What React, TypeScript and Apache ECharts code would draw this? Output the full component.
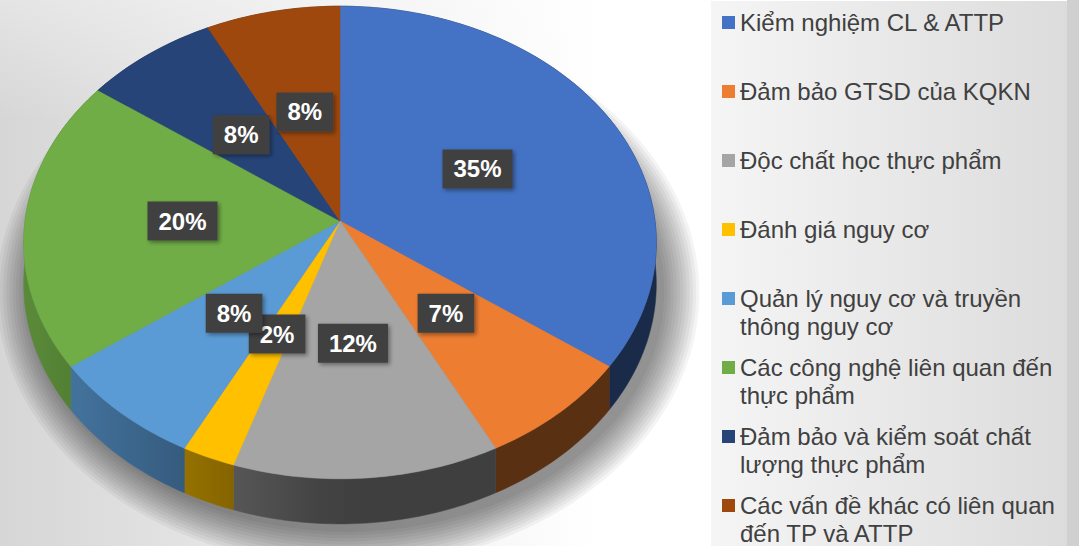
import React, { useEffect, useRef } from "react";
import * as echarts from "echarts";

const categories = [
  "Kiểm nghiệm CL & ATTP",
  "Đảm bảo GTSD của KQKN",
  "Độc chất học thực phẩm",
  "Đánh giá nguy cơ",
  "Quản lý nguy cơ và truyền thông nguy cơ",
  "Các công nghệ liên quan đến thực phẩm",
  "Đảm bảo và kiểm soát chất lượng thực phẩm",
  "Các vấn đề khác có liên quan đến TP và ATTP",
];
const legendText = [
  "Kiểm nghiệm CL & ATTP",
  "Đảm bảo GTSD của KQKN",
  "Độc chất học thực phẩm",
  "Đánh giá nguy cơ",
  "Quản lý nguy cơ và truyền\nthông nguy cơ",
  "Các công nghệ liên quan đến\nthực phẩm",
  "Đảm bảo và kiểm soát chất\nlượng thực phẩm",
  "Các vấn đề khác có liên quan\nđến TP và ATTP",
];
// slice sizes
const values = [35, 7.5, 12.5, 2.5, 7.5, 20, 7.5, 7.5];
// percentages as printed on the data labels
const shownPercents = [35, 7, 12, 2, 8, 20, 8, 8];
const colors = ["#4472C4", "#ED7D31", "#A5A5A5", "#FFC000", "#5B9BD5", "#70AD47", "#264478", "#9E480E"];

// geometry of the tilted pie
const CX = 340;
const CY = 221;
const R = 315;
const D = 11 * R;
const TILT = 0.744;
const DEPTH = 41;

function proj(phiDeg: number, r: number, drop: number): number[] {
  const p = (phiDeg * Math.PI) / 180;
  const X = r * R * Math.sin(p);
  const Yd = -r * R * Math.cos(p);
  const k = D / (D - Yd);
  return [CX + X * k, CY + Yd * TILT * k + drop * k];
}

function shade(hex: string, f: number): string {
  const n = parseInt(hex.slice(1), 16);
  const r = Math.round(((n >> 16) & 255) * f);
  const g = Math.round(((n >> 8) & 255) * f);
  const b = Math.round((n & 255) * f);
  return `rgb(${r},${g},${b})`;
}

function wallFactor(x: number): number {
  const s = Math.min(1, Math.max(0, (CX - x) / R));
  return 0.38 + 0.42 * s;
}

export default function App() {
  const ref = useRef<HTMLDivElement>(null);
  useEffect(() => {
    if (!ref.current) return;
    const chart = echarts.init(ref.current, null, { renderer: "svg" });
    const cum: number[] = [];
    let acc = 0;
    values.forEach((v) => {
      cum.push(acc);
      acc += v;
    });
    const total = acc;

    const renderItem = (params: any, api: any) => {
      const v = api.value(0);
      const s = api.value(1);
      const pct = api.value(2);
      const base = api.visual("color");
      const a0 = (s / total) * 360;
      const a1 = ((s + v) / total) * 360;
      const n = Math.max(2, Math.ceil(a1 - a0));
      const top: number[][] = [];
      const bottom: number[][] = [];
      for (let i = 0; i <= n; i++) {
        const a = a0 + ((a1 - a0) * i) / n;
        top.push(proj(a, 1, 0));
        bottom.push(proj(a, 1, DEPTH));
      }
      const wall = top.concat(bottom.slice().reverse());
      const xs = top.map((p) => p[0]);
      const xmin = Math.min(...xs);
      const xmax = Math.max(...xs);
      const stops: any[] = [];
      for (let i = 0; i <= 6; i++) {
        const x = xmin + ((xmax - xmin) * i) / 6;
        stops.push({ offset: i / 6, color: shade(base, wallFactor(x)) });
      }
      const wallFill =
        xmax - xmin > 1
          ? new echarts.graphic.LinearGradient(xmin, 0, xmax, 0, stops, true)
          : shade(base, wallFactor(xmin));
      const children: any[] = [];
      if (params.seriesIndex === 0) {
        // soft drop shadow built from stacked translucent rings
        const c0 = proj(0, 0, DEPTH);
        for (let j = 11; j >= 0; j--) {
          const grow = j * 3.2;
          const ring: number[][] = [];
          for (let a = 0; a < 360; a += 3) {
            const p = proj(a, 1, DEPTH);
            const dx = p[0] - c0[0];
            const dy = p[1] - c0[1];
            const len = Math.sqrt(dx * dx + dy * dy) || 1;
            ring.push([p[0] + (dx / len) * grow + 8, p[1] + (dy / len) * grow + 8]);
          }
          children.push({
            type: "polygon",
            z2: 0,
            shape: { points: ring },
            style: { fill: "rgba(0,0,0,0.045)" },
          });
        }
      }
      children.push({
        type: "polygon",
        z2: 2,
        shape: { points: wall },
        style: { fill: wallFill, stroke: wallFill, lineWidth: 0.5 },
      });
      children.push({
        type: "polygon",
        z2: 5,
        shape: { points: [proj(0, 0, 0)].concat(top) },
        style: { fill: base, stroke: base, lineWidth: 0.5 },
      });
      const lp = proj((a0 + a1) / 2, 0.5, 0);
      children.push({
        type: "text",
        z2: 20,
        x: lp[0],
        y: lp[1],
        style: {
          text: pct + "%",
          fill: "#ffffff",
          font: "bold 24px 'Liberation Sans', Arial, sans-serif",
          align: "center",
          verticalAlign: "middle",
          backgroundColor: "#404040",
          padding: [8, 11, 7, 11],
          shadowColor: "rgba(0,0,0,0.4)",
          shadowBlur: 4,
          shadowOffsetX: 2,
          shadowOffsetY: 2,
        },
      });
      return { type: "group", children };
    };

    const iconCenters = [22.5, 91.5, 160.5, 229.5, 298.5, 367.5, 436.5, 505.5];
    const LH = 28;

    chart.setOption({
      animation: false,
      graphic: [
        {
          type: "rect",
          z: -10,
          silent: true,
          shape: { x: 0, y: 0, width: 1079, height: 546 },
          style: {
            fill: new echarts.graphic.LinearGradient(
              0,
              0,
              700,
              0,
              [
                { offset: 0, color: "#d6d6d6" },
                { offset: 0.85, color: "#ffffff" },
                { offset: 1, color: "#ffffff" },
              ],
              true
            ),
          },
        },
        {
          type: "rect",
          z: -9,
          silent: true,
          shape: { x: 0, y: 0, width: 700, height: 120 },
          style: {
            fill: new echarts.graphic.LinearGradient(
              0,
              0,
              0,
              120,
              [
                { offset: 0, color: "rgba(255,255,255,0.35)" },
                { offset: 1, color: "rgba(255,255,255,0)" },
              ],
              true
            ),
          },
        },
        {
          type: "rect",
          z: -8,
          silent: true,
          shape: { x: 711, y: 1, width: 356, height: 545 },
          style: {
            fill: new echarts.graphic.LinearGradient(
              711,
              0,
              1067,
              0,
              [
                { offset: 0, color: "#f5f5f5" },
                { offset: 1, color: "#dcdcdc" },
              ],
              true
            ),
          },
        },
        {
          type: "rect",
          z: -8,
          silent: true,
          shape: { x: 1067, y: 0, width: 12, height: 546 },
          style: { fill: "#d0d0d0" },
        },
      ],
      legend: categories.map((name, i) => {
        const multi = legendText[i].indexOf("\n") >= 0;
        return {
          data: [name],
          orient: "vertical",
          left: 722,
          top: multi ? iconCenters[i] - LH * 1.5 : iconCenters[i] - LH / 2,
          padding: 0,
          itemWidth: 13,
          itemHeight: 13,
          icon: "rect",
          selectedMode: false,
          formatter: () => (multi ? "\n" + legendText[i] : legendText[i]),
          textStyle: {
            fontSize: 24,
            lineHeight: LH,
            color: "#404040",
            fontFamily: "'Liberation Sans', Arial, sans-serif",
          },
        };
      }),
      series: categories.map((name, i) => ({
        type: "custom",
        name,
        coordinateSystem: "none",
        itemStyle: { color: colors[i] },
        renderItem,
        data: [[values[i], cum[i], shownPercents[i]]],
      })),
    });
    return () => chart.dispose();
  }, []);
  return (
    <div
      ref={ref}
      style={{ position: "absolute", left: 0, top: 0, width: 1079, height: 546 }}
    />
  );
}
